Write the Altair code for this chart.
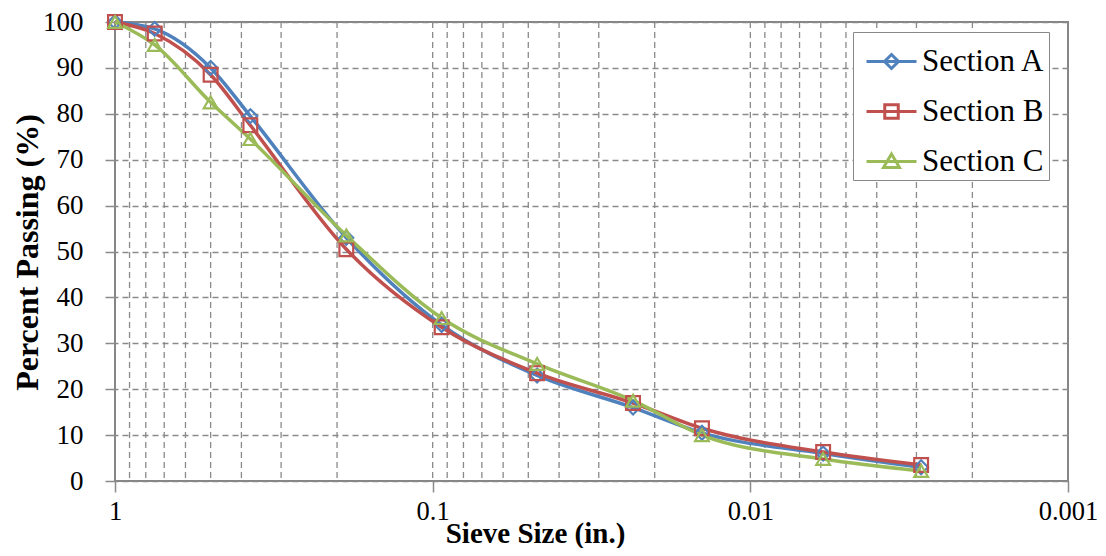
import altair as alt
import pandas as pd

# ---- data ----
sieve_in = [1, 0.75, 0.5, 0.375, 0.187, 0.0937, 0.0469, 0.0234, 0.0142, 0.0059, 0.0029]
section_a = [100, 98.5, 90, 79.5, 53, 34, 23, 16, 10.5, 6, 3]
section_b = [100, 97.5, 88.5, 77.5, 50.5, 33.5, 23.5, 17, 11.5, 6.3, 3.5]
section_c = [100, 95, 82.5, 74.5, 53.5, 35.5, 25.5, 17.5, 10, 4.8, 2.2]
series_names = ["Section A", "Section B", "Section C"]
series_colors = ["#4F81BD", "#C0504D", "#9BBB59"]
marker_shapes = ["diamond", "square", "triangle-up"]
legend_paths = [
    "M-1,0L1,0M0,-0.28L0.28,0L0,0.28L-0.28,0Z",
    "M-1,0L1,0M-0.27,-0.27L0.27,-0.27L0.27,0.27L-0.27,0.27Z",
    "M-1,0L1,0M0,-0.3L0.32,0.24L-0.32,0.24Z",
]
x_major = [1, 0.1, 0.01, 0.001]
x_minor_grid = [0.9, 0.8, 0.7, 0.6, 0.5, 0.4, 0.3, 0.2, 0.1,
                0.09, 0.08, 0.07, 0.06, 0.05, 0.04, 0.03, 0.02, 0.01,
                0.009, 0.008, 0.007, 0.006, 0.005, 0.004, 0.003, 0.002]
y_ticks = [0, 10, 20, 30, 40, 50, 60, 70, 80, 90, 100]

rows = []
for name, vals in zip(series_names, [section_a, section_b, section_c]):
    for s, v in zip(sieve_in, vals):
        rows.append({"size": s, "pct": v, "series": name})
df = pd.DataFrame(rows)
grid_df = pd.DataFrame({"size": x_minor_grid})

FONT = "Liberation Serif"
GRID = "#8a8a8a"

x_scale = alt.Scale(type="log", domain=[0.001, 1], reverse=True, nice=False)
x_axis = alt.Axis(values=x_major, format="~g", grid=False, domain=False,
                  tickSize=11, tickColor=GRID, tickWidth=1.5,
                  labelFont=FONT, labelFontSize=26.5, labelColor="black",
                  labelPadding=6, labelFlush=False, labelOverlap=False,
                  titleFont=FONT, titleFontSize=29, titleFontWeight="bold",
                  titleColor="black", titleX=420, titleY=61,
                  titleBaseline="alphabetic", titleAlign="center")
y_axis = alt.Axis(values=y_ticks, grid=True, gridDash=[6, 4], gridColor=GRID,
                  gridWidth=1.3, domain=False, tickSize=10, tickColor=GRID,
                  tickWidth=1.5, labelFont=FONT, labelFontSize=27,
                  labelColor="black", labelPadding=22,
                  titleFont=FONT, titleFontSize=32, titleFontWeight="bold",
                  titleColor="black", titleAngle=-90, titleX=-78, titleY=230,
                  titleBaseline="alphabetic", titleAlign="center")

X = alt.X("size:Q", scale=x_scale, axis=x_axis, title="Sieve Size (in.)")
Y = alt.Y("pct:Q", scale=alt.Scale(domain=[0, 100], nice=False), axis=y_axis,
          title="Percent Passing (%)")
color_scale = alt.Scale(domain=series_names, range=series_colors)

rules = alt.Chart(grid_df).mark_rule(
    strokeDash=[6, 4], color=GRID, strokeWidth=1.3
).encode(x=X)

lines = alt.Chart(df).mark_line(interpolate="monotone", strokeWidth=3.5).encode(
    x=X, y=Y,
    color=alt.Color("series:N", scale=color_scale, legend=None),
    detail="series:N",
)

points = alt.Chart(df).mark_point(filled=False, size=190, strokeWidth=2.2, opacity=1).encode(
    x=X, y=Y,
    color=alt.Color("series:N", scale=color_scale, legend=None),
    shape=alt.Shape("series:N", scale=alt.Scale(domain=series_names, range=marker_shapes),
                    legend=None),
)

legend_cfg = dict(
    title=None, orient="none", legendX=738, legendY=10, direction="vertical",
    symbolSize=2500, symbolStrokeWidth=3, labelFont=FONT, labelFontSize=31,
    labelColor="black", labelLimit=400, strokeColor="#888888", fillColor="white",
    padding=3, symbolOffset=9, labelOffset=4, rowPadding=8,
)
legend_layer = alt.Chart(df).transform_filter("false").mark_point(
    filled=False, size=2500, strokeWidth=3, opacity=1
).encode(
    x=X, y=Y,
    color=alt.Color("series:N", scale=color_scale, legend=alt.Legend(**legend_cfg)),
    shape=alt.Shape("series:N", scale=alt.Scale(domain=series_names, range=legend_paths),
                    legend=alt.Legend(**legend_cfg)),
)

chart = alt.layer(rules, lines, points, legend_layer).resolve_scale(
    color="independent", shape="independent"
).properties(
    width=953, height=459,
    autosize=alt.AutoSizeParams(type="none"),
    padding={"left": 107, "top": 14, "right": 30, "bottom": 67},
).configure(font=FONT).configure_axis(
    labelFont=FONT, titleFont=FONT
).configure_legend(labelFont=FONT).configure_view(stroke="#868686", strokeWidth=2)

chart.save("out.html", embed_options={"renderer": "svg", "actions": False})
